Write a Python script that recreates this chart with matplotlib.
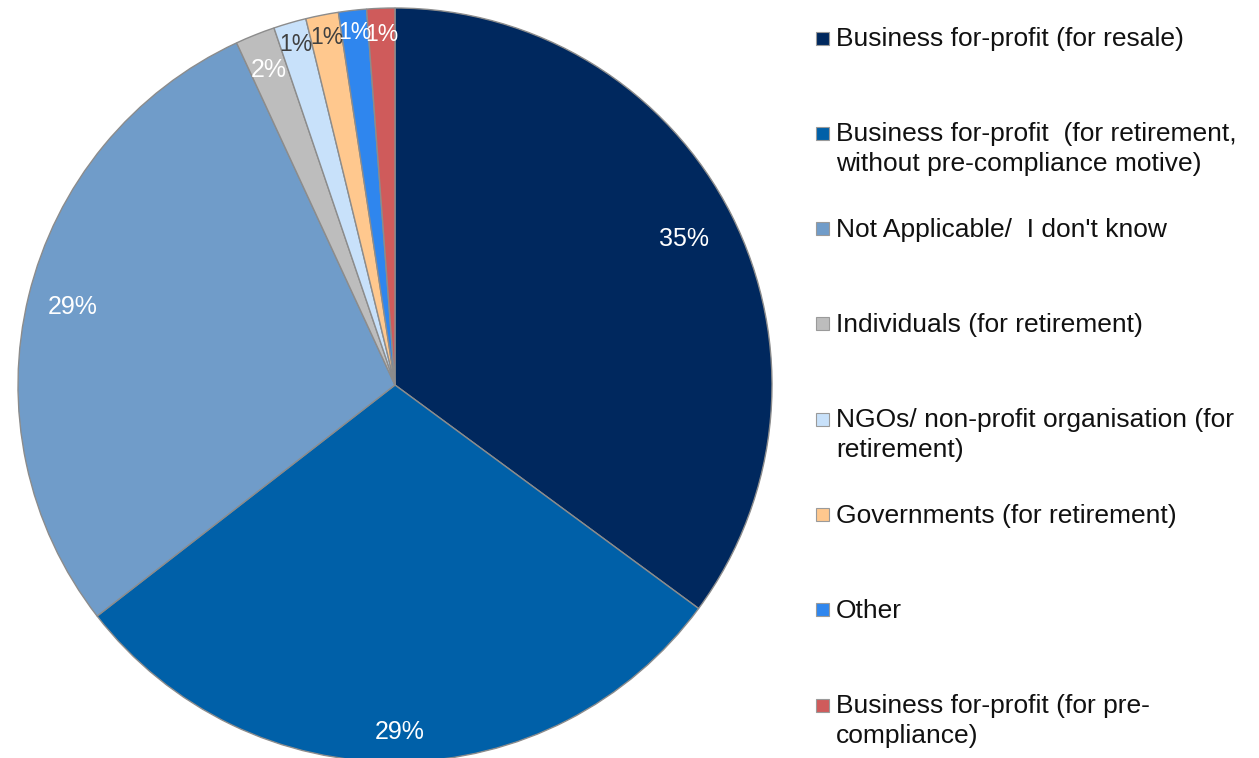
import numpy as np
import matplotlib.pyplot as plt
from matplotlib.patches import Rectangle

plt.rcParams['font.family'] = ['Liberation Sans', 'DejaVu Sans']

# Slice shares (clockwise from 12 o'clock)
categories = ['Business for-profit (for resale)',
              'Business for-profit  (for retirement,\nwithout pre-compliance motive)',
              'Not Applicable/  I don\'t know',
              'Individuals (for retirement)',
              'NGOs/ non-profit organisation (for\nretirement)',
              'Governments (for retirement)',
              'Other',
              'Business for-profit (for pre-\ncompliance)']
shares = [35.1, 29.4, 28.6, 1.7, 1.4, 1.4, 1.2, 1.2]

colors = ['#00285E', '#0060A8', '#709CC9', '#BDBDBD',
          '#C8E1FA', '#FFC88E', '#2F86EE', '#CF5B5B']
label_colors = ['white', 'white', 'white', 'white',
                '#404040', '#404040', 'white', 'white']
label_dist = [0.86, 0.92, 0.88, 0.90, 0.94, 0.94, 0.94, 0.93]
label_size = [18, 18, 18, 18, 16.5, 16.5, 16.5, 16.5]

W, H = 1259, 758
fig = plt.figure(figsize=(W / 100, H / 100), dpi=100)

# pie axes: centre ~ (395, 385) px, radius ~ 377 px
cx, cy, r = 395, 385, 377
ax = fig.add_axes([(cx - r) / W, (H - cy - r) / H, 2 * r / W, 2 * r / H])
wedges, texts, autotexts = ax.pie(
    shares, colors=colors, startangle=90, counterclock=False,
    autopct='%.0f%%', pctdistance=0.9,
    wedgeprops=dict(edgecolor='#8C8C8C', linewidth=1.0))
ax.set_xlim(-1, 1)
ax.set_ylim(-1, 1)
ax.set_aspect('auto')
ax.axis('off')

# move each percentage along its own wedge bisector
for w, t, d, c, s in zip(wedges, autotexts, label_dist, label_colors, label_size):
    mid = np.deg2rad((w.theta1 + w.theta2) / 2)
    t.set_position((d * np.cos(mid), d * np.sin(mid)))
    t.set_color(c)
    t.set_fontsize(s)

# legend drawn by hand so markers align with the first line
y0, step = 38, 95.3
for i, (lab, col) in enumerate(zip(categories, colors)):
    y = y0 + i * step
    fig.patches.append(Rectangle((816 / W, (H - y - 6.5) / H), 13 / W, 13 / H,
                                 transform=fig.transFigure, facecolor=col,
                                 edgecolor='#9A9A9A', linewidth=0.8))
    fig.text(836 / W, (H - y + 11) / H, lab, fontsize=19, color='#111111',
             va='top', ha='left', linespacing=1.3)

fig.savefig('out.png', dpi=100)
